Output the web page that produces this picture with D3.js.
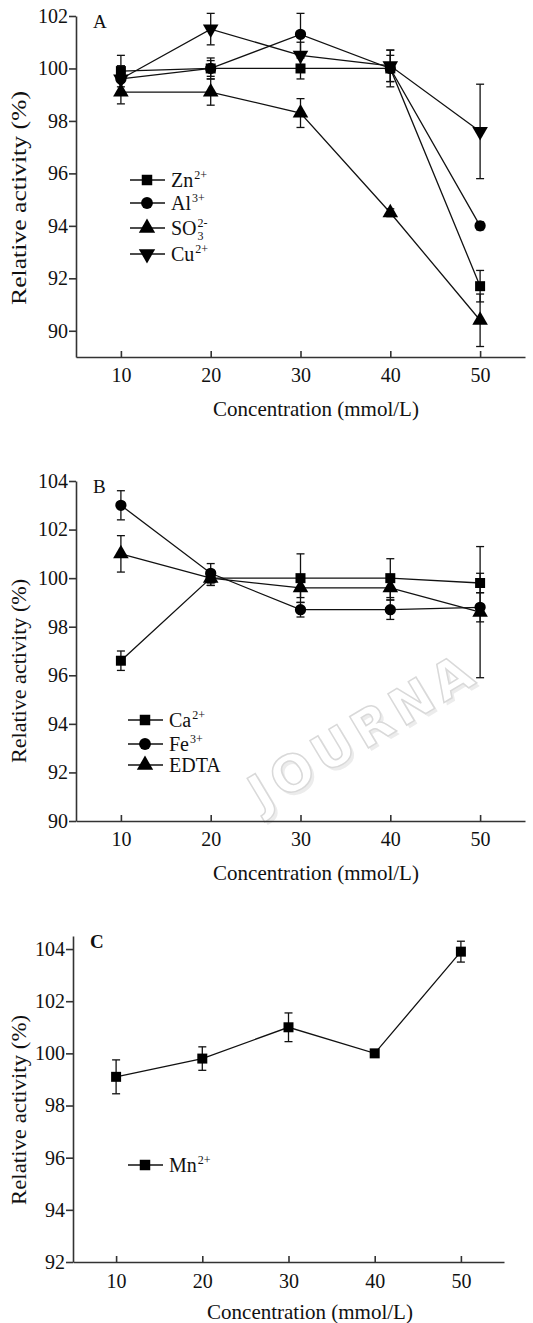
<!DOCTYPE html>
<html>
<head>
<meta charset="utf-8">
<script src="https://cdn.jsdelivr.net/npm/d3@7"></script>
<style>
  body { margin: 0; background: #fff; }
  svg { display: block; }
  svg text { font-family: "Liberation Serif", Tinos, "Times New Roman", Times, "Nimbus Roman", "DejaVu Serif", serif; fill: #111; }
</style>
</head>
<body>
<div id="chart"></div>
<script>
// Shared x values (mmol/L)
const concentrations = [10, 20, 30, 40, 50];
const xTicks = [10, 20, 30, 40, 50];

// Panel A
const znMean  = [99.9, 100.0, 100.0, 100.0, 91.7];
const znErr   = [0.6, 0.3, 0.4, 0.7, 0.6];
const alMean  = [99.6, 100.0, 101.3, 100.0, 94.0];
const alErr   = [0.5, 0.4, 0.8, 0.5, 0.15];
const so3Mean = [99.1, 99.1, 98.3, 94.5, 90.4];
const so3Err  = [0.45, 0.5, 0.55, 0.15, 1.0];
const cuMean  = [99.6, 101.5, 100.5, 100.1, 97.6];
const cuErr   = [0.5, 0.6, 0.5, 0.6, 1.8];
const yTicksA = [90, 92, 94, 96, 98, 100, 102];

// Panel B
const caMean   = [96.6, 100.0, 100.0, 100.0, 99.8];
const caErr    = [0.4, 0.3, 1.0, 0.8, 0.4];
const feMean   = [103.0, 100.2, 98.7, 98.7, 98.8];
const feErr    = [0.6, 0.4, 0.3, 0.4, 0.6];
const edtaMean = [101.0, 100.0, 99.6, 99.6, 98.6];
const edtaErr  = [0.75, 0.3, 0.4, 0.5, 2.7];
const yTicksB = [90, 92, 94, 96, 98, 100, 102, 104];

// Panel C
const mnMean = [99.1, 99.8, 101.0, 100.0, 103.9];
const mnErr  = [0.65, 0.45, 0.55, 0.1, 0.4];
const yTicksC = [92, 94, 96, 98, 100, 102, 104];

const xTitle = "Concentration (mmol/L)";
const yTitle = "Relative activity (%)";

const width = 533;
const height = 1323;
const serif = '"Liberation Serif", Tinos, "Times New Roman", Times, "Nimbus Roman", "DejaVu Serif", serif';

const svg = d3.select("#chart").append("svg")
  .attr("width", width)
  .attr("height", height)
  .attr("font-family", serif);

const sq = d3.symbolSquare, ci = d3.symbolCircle, tri = d3.symbolTriangle;

function toPoints(mean, err) {
  return concentrations.map((c, i) => ({ x: c, y: mean[i], e: err[i] }));
}

function drawPanel(p) {
  const x = d3.scaleLinear().domain([5, 55]).range([p.left, p.right]);
  const y = d3.scaleLinear().domain(p.yDomain).range([p.bottom, p.top]);
  const g = svg.append("g");

  if (p.watermark) p.watermark(g);

  // Axes
  const xAxis = g.append("g")
    .attr("transform", `translate(0,${p.bottom})`)
    .call(d3.axisBottom(x).tickValues(xTicks).tickSizeInner(-6).tickSizeOuter(0)
      .tickPadding(p.xPad).tickFormat(d3.format("d")));

  const yAxis = g.append("g")
    .attr("transform", `translate(${p.left},0)`)
    .call(d3.axisLeft(y).tickValues(p.yTicks).tickSizeInner(7).tickSizeOuter(0)
      .tickPadding(1).tickFormat(d3.format("d")));

  [xAxis, yAxis].forEach(a => {
    a.attr("font-family", serif).attr("font-size", 20);
    a.selectAll("path, line").attr("stroke", "#333").attr("stroke-width", 1.6);
    a.selectAll("text").style("font-size", "20px").style("fill", "#111");
  });

  // Axis titles
  g.append("text")
    .attr("x", p.xTitleX)
    .attr("y", p.xTitleY)
    .attr("text-anchor", "middle")
    .style("font-size", "21px")
    .text(xTitle);

  g.append("text")
    .attr("transform", `translate(26,${p.yTitleY}) rotate(-90)`)
    .attr("text-anchor", "middle")
    .attr("textLength", p.yTitleLen)
    .attr("lengthAdjust", "spacingAndGlyphs")
    .style("font-size", "22px")
    .text(yTitle);

  // Panel letter
  g.append("text")
    .attr("x", p.left + 17)
    .attr("y", p.letterY)
    .style("font-size", "19px")
    .style("font-weight", p.letterBold ? "bold" : "normal")
    .text(p.letter);

  const line = d3.line().x(d => x(d.x)).y(d => y(d.y));

  // Connecting lines
  p.series.forEach(s => {
    g.append("path")
      .datum(toPoints(s.mean, s.err))
      .attr("fill", "none")
      .attr("stroke", "#111")
      .attr("stroke-width", 1.3)
      .attr("d", line);
  });

  // Error bars
  p.series.forEach(s => {
    const eb = g.append("g").selectAll("g")
      .data(toPoints(s.mean, s.err))
      .enter().append("g")
      .attr("stroke", "#111")
      .attr("stroke-width", 1.3);
    eb.append("line")
      .attr("x1", d => x(d.x)).attr("x2", d => x(d.x))
      .attr("y1", d => y(d.y - d.e)).attr("y2", d => y(d.y + d.e));
    eb.append("line")
      .attr("x1", d => x(d.x) - 4).attr("x2", d => x(d.x) + 4)
      .attr("y1", d => y(d.y + d.e)).attr("y2", d => y(d.y + d.e));
    eb.append("line")
      .attr("x1", d => x(d.x) - 4).attr("x2", d => x(d.x) + 4)
      .attr("y1", d => y(d.y - d.e)).attr("y2", d => y(d.y - d.e));
  });

  // Markers
  p.series.forEach(s => {
    g.append("g").selectAll("path")
      .data(toPoints(s.mean, s.err))
      .enter().append("path")
      .attr("d", d3.symbol().type(s.symbol).size(s.size))
      .attr("transform", d => `translate(${x(d.x)},${y(d.y)})${s.down ? " rotate(180)" : ""}`)
      .attr("fill", "#000");
  });

  // Legend
  p.series.forEach((s, i) => {
    const ly = p.legendRows[i];
    const lg = g.append("g");
    lg.append("line")
      .attr("x1", p.legendX).attr("x2", p.legendX + 35)
      .attr("y1", ly).attr("y2", ly)
      .attr("stroke", "#111").attr("stroke-width", 1.3);
    lg.append("path")
      .attr("d", d3.symbol().type(s.symbol).size(s.size * 1.1))
      .attr("transform", `translate(${p.legendX + 17},${ly})${s.down ? " rotate(180)" : ""}`)
      .attr("fill", "#000");
    const tx = p.legendX + 41;
    const base = lg.append("text")
      .attr("x", tx).attr("y", ly + 7)
      .style("font-size", "20px")
      .text(s.label);
    const w = base.node().getComputedTextLength();
    if (s.sup) {
      lg.append("text")
        .attr("x", tx + w + 1).attr("y", ly - 1)
        .style("font-size", "12px")
        .text(s.sup);
    }
    if (s.sub) {
      lg.append("text")
        .attr("x", tx + w + 1).attr("y", ly + 12)
        .style("font-size", "12px")
        .text(s.sub);
    }
  });
}

// Panel A
drawPanel({
  left: 76, right: 525, top: 16, bottom: 357,
  yDomain: [89, 102], yTicks: yTicksA,
  xPad: 11, xTitleX: 316, xTitleY: 416,
  yTitleY: 198, yTitleLen: 214,
  letter: "A", letterY: 28,
  legendX: 130, legendRows: [180, 203, 228, 254],
  series: [
    { label: "Zn", sup: "2+", mean: znMean, err: znErr, symbol: sq, size: 100 },
    { label: "Al", sup: "3+", mean: alMean, err: alErr, symbol: ci, size: 100 },
    { label: "SO", sup: "2-", sub: "3", mean: so3Mean, err: so3Err, symbol: tri, size: 105 },
    { label: "Cu", sup: "2+", mean: cuMean, err: cuErr, symbol: tri, size: 105, down: true }
  ]
});

// Panel B
drawPanel({
  left: 76, right: 525, top: 481, bottom: 821,
  yDomain: [90, 104], yTicks: yTicksB,
  xPad: 11, xTitleX: 316, xTitleY: 880,
  yTitleY: 671, yTitleLen: 184,
  letter: "B", letterY: 493,
  legendX: 128, legendRows: [720, 744, 765],
  watermark: wg => {
    // faint publisher watermark behind the plot (soft shadow + outline)
    const wm = (dx, dy, fill, stroke) => wg.append("text")
      .attr("transform", `translate(${262 + dx},${812 + dy}) rotate(-31)`)
      .style("font-family", "'DejaVu Sans', sans-serif")
      .style("font-weight", "bold")
      .style("font-size", "50px")
      .style("letter-spacing", "6px")
      .style("fill", fill)
      .style("stroke", stroke)
      .style("stroke-width", "1.5px")
      .text("JOURNA");
    wm(3, 3, "#ececec", "none");
    wm(0, 0, "#ffffff", "#d9d9d9");
  },
  series: [
    { label: "Ca", sup: "2+", mean: caMean, err: caErr, symbol: sq, size: 100 },
    { label: "Fe", sup: "3+", mean: feMean, err: feErr, symbol: ci, size: 100 },
    { label: "EDTA", mean: edtaMean, err: edtaErr, symbol: tri, size: 105 }
  ]
});

// Panel C
drawPanel({
  left: 73, right: 504, top: 936, bottom: 1262,
  yDomain: [92, 104.5], yTicks: yTicksC,
  xPad: 12, xTitleX: 310, xTitleY: 1319,
  yTitleY: 1110, yTitleLen: 190,
  letter: "C", letterY: 948, letterBold: true,
  legendX: 128, legendRows: [1165],
  series: [
    { label: "Mn", sup: "2+", mean: mnMean, err: mnErr, symbol: sq, size: 100 }
  ]
});
</script>
</body>
</html>
